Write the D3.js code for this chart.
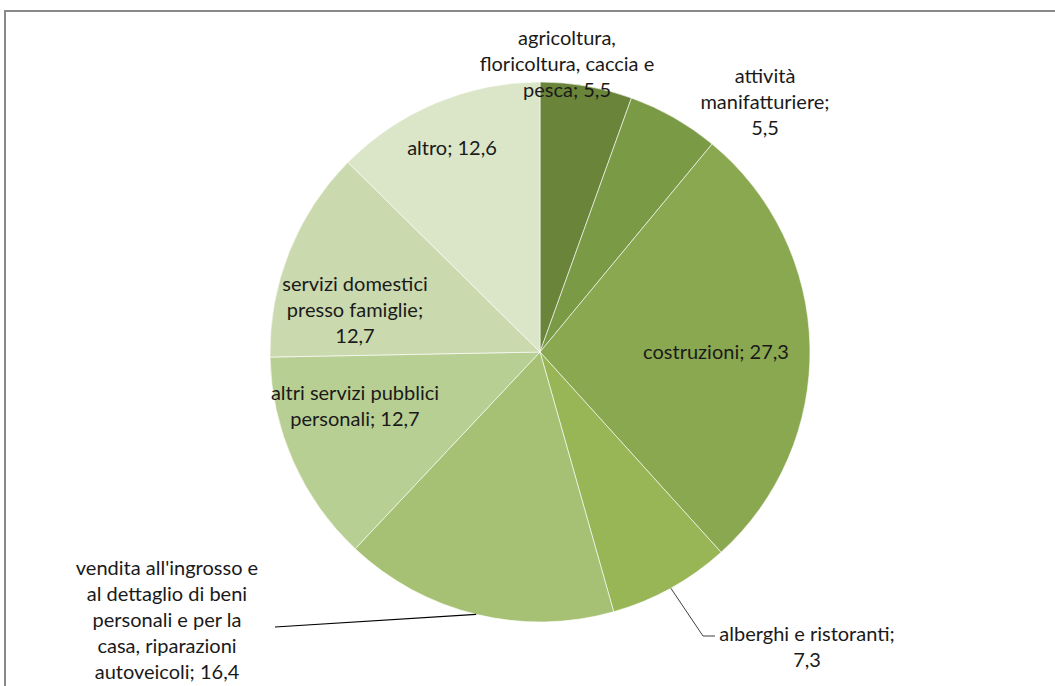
<!DOCTYPE html>
<html><head><meta charset="utf-8">
<script src="https://cdn.jsdelivr.net/npm/d3@7"></script>
<style>body{margin:0;background:#fff}svg{display:block}</style>
</head><body>
<svg id="c" width="1055" height="686"></svg>
<script>
const categories = [
  "agricoltura, floricoltura, caccia e pesca",
  "attività manifatturiere",
  "costruzioni",
  "alberghi e ristoranti",
  "vendita all'ingrosso e al dettaglio di beni personali e per la casa, riparazioni autoveicoli",
  "altri servizi pubblici personali",
  "servizi domestici presso famiglie",
  "altro"
];
const values = [5.5, 5.5, 27.3, 7.3, 16.4, 12.7, 12.7, 12.6];
const labelLines = [
  ["agricoltura,", "floricoltura, caccia e", "pesca; 5,5"],
  ["attività", "manifatturiere;", "5,5"],
  ["costruzioni; 27,3"],
  ["alberghi e ristoranti;", "7,3"],
  ["vendita all'ingrosso e", "al dettaglio di beni", "personali e per la", "casa, riparazioni", "autoveicoli; 16,4"],
  ["altri servizi pubblici", "personali; 12,7"],
  ["servizi domestici", "presso famiglie;", "12,7"],
  ["altro; 12,6"]
];
const colors = ["#6a8439","#7b9a46","#8aa850","#98b656","#a6c173","#b8cf94","#cad9ae","#dbe5c8"];

const svg = d3.select("#c");
const cx = 540, cy = 352, R = 270;

// frame
svg.append("line").attr("x1",4).attr("x2",1055).attr("y1",11).attr("y2",11).attr("stroke","#898989").attr("stroke-width",2);
svg.append("line").attr("x1",5).attr("x2",5).attr("y1",10).attr("y2",686).attr("stroke","#898989").attr("stroke-width",2);

const pie = d3.pie().sort(null).value(d => d)(values);
const arc = d3.arc().innerRadius(0).outerRadius(R);
const g = svg.append("g").attr("transform",`translate(${cx},${cy})`);
g.selectAll("path").data(pie).join("path")
  .attr("d", arc).attr("fill", (d,i) => colors[i])
  .attr("stroke","#fff").attr("stroke-width",0.6);

const labelPos = [
  {x:567, y:38}, {x:765, y:76}, {x:716, y:352}, {x:807, y:634},
  {x:167, y:568}, {x:355, y:393}, {x:355, y:284}, {x:452, y:148}
];
const lh = 26;
labelLines.forEach((lines, i) => {
  const t = svg.append("text").attr("text-anchor","middle")
    .attr("font-family","Lato, 'Open Sans', sans-serif").attr("font-size",20).attr("fill","#1a1a1a");
  lines.forEach((s, j) => {
    t.append("tspan").attr("x", labelPos[i].x).attr("y", labelPos[i].y + j*lh).attr("dy","0.35em").text(s);
  });
});

function edge(i, frac){
  const a = pie[i].startAngle + (pie[i].endAngle - pie[i].startAngle)*frac;
  return [cx + R*Math.sin(a), cy - R*Math.cos(a)];
}
const p3 = edge(3, 0.5);
svg.append("polyline").attr("points", `${p3[0]},${p3[1]} 703,636 715,636`)
  .attr("fill","none").attr("stroke","#404040").attr("stroke-width",1);
const p4 = edge(4, 0.5);
svg.append("polyline").attr("points", `${p4[0]},${p4[1]} 275,627`)
  .attr("fill","none").attr("stroke","#000").attr("stroke-width",1.2);
</script>
</body></html>
